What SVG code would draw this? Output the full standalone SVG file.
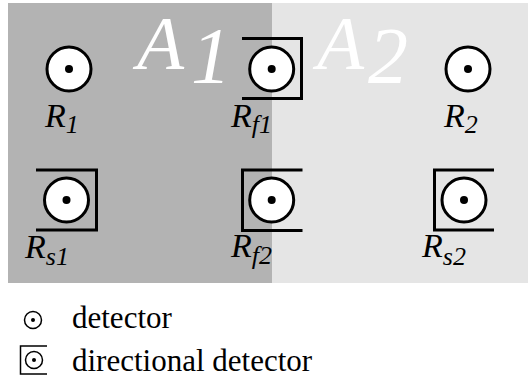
<svg xmlns="http://www.w3.org/2000/svg" width="528" height="378" viewBox="0 0 528 378">
<style>
.det{fill:#fff;stroke:#000;stroke-width:3}
.dot{fill:#000}
.br{fill:none;stroke:#000;stroke-width:3}
.lbl{font-family:"Liberation Serif","Times New Roman",serif;font-style:italic;font-size:34px;fill:#000}
.sub{font-size:26px}
.area{font-family:"Liberation Serif","Times New Roman",serif;font-style:italic;font-size:80px;fill:#fff}
.areaA{font-size:77px}
.leg{font-family:"Liberation Serif","Times New Roman",serif;font-size:31px;fill:#000}
.ldet{fill:#fff;stroke:#000;stroke-width:1.5}
.lbr{fill:none;stroke:#000;stroke-width:1.5}
</style>
<rect x="8" y="3" width="264" height="280" fill="#b3b3b3"/>
<rect x="272" y="3" width="256" height="280" fill="#e5e5e5"/>
<text class="area areaA" x="137" y="69">A</text>
<text class="area" x="191" y="83">1</text>
<text class="area areaA" x="317" y="69">A</text>
<text class="area" x="368" y="83">2</text>
<g id="connectors"/>
<g id="R1">
<circle class="det" cx="69" cy="69" r="22"/><circle class="dot" cx="69" cy="69" r="4"/>
<text class="lbl" x="45" y="127">R<tspan class="sub" dy="6">1</tspan></text>
</g>
<g id="Rf1">
<path class="br" d="M242,38.5 H301.5 V98.5 H242"/>
<circle class="det" cx="271.7" cy="69" r="22"/><circle class="dot" cx="271.7" cy="69" r="4"/>
<text class="lbl" x="231" y="127">R<tspan class="sub" dy="6">f1</tspan></text>
</g>
<g id="R2">
<circle class="det" cx="468" cy="69" r="22"/><circle class="dot" cx="468" cy="69" r="4"/>
<text class="lbl" x="444" y="127">R<tspan class="sub" dy="6">2</tspan></text>
</g>
<g id="Rs1">
<path class="br" d="M36,170 H96.5 V230 H36"/>
<circle class="det" cx="66.5" cy="200" r="22"/><circle class="dot" cx="66.5" cy="200" r="4"/>
<text class="lbl" x="25" y="258">R<tspan class="sub" dy="7">s1</tspan></text>
</g>
<g id="Rf2">
<path class="br" d="M302.5,170 H242.5 V230.5 H302.5"/>
<circle class="det" cx="271.7" cy="200" r="22"/><circle class="dot" cx="271.7" cy="200" r="4"/>
<text class="lbl" x="231" y="257">R<tspan class="sub" dy="7">f2</tspan></text>
</g>
<g id="Rs2">
<path class="br" d="M494,170 H434.5 V230 H494"/>
<circle class="det" cx="464" cy="200" r="22"/><circle class="dot" cx="464" cy="200" r="4"/>
<text class="lbl" x="422" y="257">R<tspan class="sub" dy="8">s2</tspan></text>
</g>
<g id="legend">
<circle class="ldet" cx="33" cy="320" r="8.5"/><circle class="dot" cx="33" cy="320" r="2"/>
<text class="leg" x="72" y="328">detector</text>
<path class="lbr" d="M47,346 H20.5 V374 H47"/>
<circle class="ldet" cx="34" cy="360" r="8.5"/><circle class="dot" cx="34" cy="360" r="2"/>
<text class="leg" x="72" y="371">directional detector</text>
</g>
</svg>
